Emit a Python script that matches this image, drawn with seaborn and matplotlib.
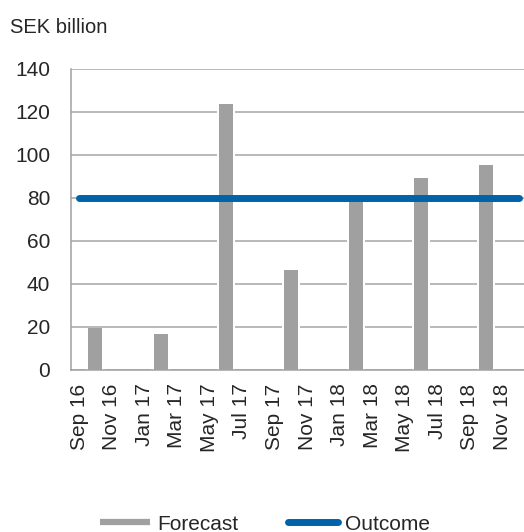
import pandas as pd
import seaborn as sns
import matplotlib.pyplot as plt
from matplotlib.lines import Line2D

months = [
    "Sep 16", "Oct 16", "Nov 16", "Dec 16",
    "Jan 17", "Feb 17", "Mar 17", "Apr 17", "May 17", "Jun 17",
    "Jul 17", "Aug 17", "Sep 17", "Oct 17", "Nov 17", "Dec 17",
    "Jan 18", "Feb 18", "Mar 18", "Apr 18", "May 18", "Jun 18",
    "Jul 18", "Aug 18", "Sep 18", "Oct 18", "Nov 18", "Dec 18",
]

forecast_months = ["Oct 16", "Feb 17", "Jun 17", "Oct 17", "Feb 18", "Jun 18", "Oct 18"]
forecast = [19.3, 16.3, 123.4, 46.3, 79, 89.3, 95.3]

outcome_months = ["Sep 16", "Dec 18"]
outcome = [80, 80]

gray = "#a0a0a0"
blue = "#0062a8"

sns.set_style("white")
plt.rcParams["font.family"] = ["Liberation Sans", "DejaVu Sans"]

fig = plt.figure(figsize=(5.24, 5.32), dpi=100)
ax = fig.add_axes([71 / 524, 1 - 369.5 / 532, 453 / 524, 301 / 532])

df = pd.DataFrame({"month": forecast_months, "value": forecast})

ax.grid(axis="y", color="#a6a6a6", linewidth=1.1, zorder=0)
ax.set_axisbelow(True)

# white bars underneath make the gaps in the gridlines
sns.barplot(x="month", y="value", data=df, order=months, color="white",
            saturation=1, width=1.12, linewidth=0, ax=ax, zorder=1)
sns.barplot(x="month", y="value", data=df, order=months, color=gray,
            saturation=1, width=0.86, linewidth=0, ax=ax, zorder=2)

sns.lineplot(
    x=[months.index(m) for m in outcome_months],
    y=outcome,
    color=blue,
    linewidth=5,
    solid_capstyle="round",
    ax=ax,
    zorder=3,
)

ax.set_ylim(0, 140)
ax.set_yticks(range(0, 141, 20))
ax.set_xlim(-0.5, 27.33)
ax.set_xticks(range(0, len(months), 2))
ax.set_xticklabels(months[::2], rotation=90)
ax.set_xlabel("")
ax.set_ylabel("")
ax.tick_params(axis="y", length=0, pad=15, labelsize=15)
ax.tick_params(axis="x", length=0, pad=10, labelsize=15)

for side in ["top", "right"]:
    ax.spines[side].set_visible(False)
for side in ["left", "bottom"]:
    ax.spines[side].set_color("#a0a0a0")
    ax.spines[side].set_linewidth(1.1)
    ax.spines[side].set_zorder(5)

fig.text(10 / 524, 1 - 28 / 532, "SEK billion", fontsize=14.5, va="center", ha="left")

handles = [
    Line2D([], [], color=gray, linewidth=4.5, solid_capstyle="butt"),
    Line2D([], [], color=blue, linewidth=5, solid_capstyle="round"),
]
fig.legend(
    handles,
    ["Forecast", "Outcome"],
    ncol=2,
    frameon=False,
    fontsize=15,
    handlelength=2.4,
    handletextpad=0.34,
    columnspacing=2.35,
    loc="center",
    bbox_to_anchor=(265 / 524, 1 - 524 / 532),
)

plt.savefig("out.png", dpi=100)
